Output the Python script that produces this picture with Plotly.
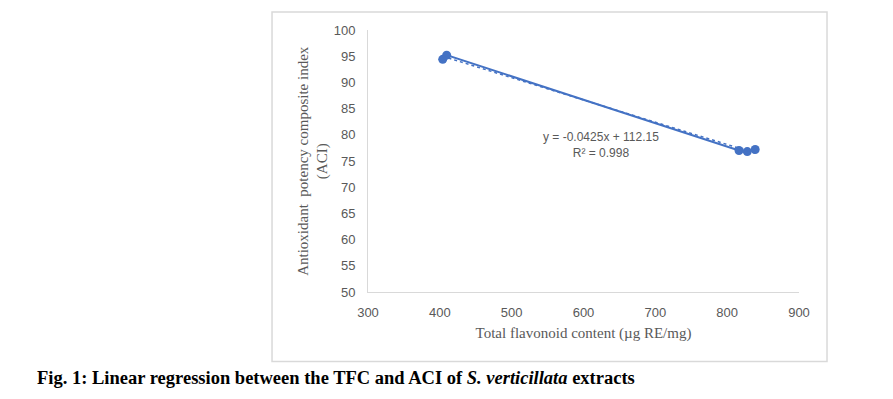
import plotly.graph_objects as go
import numpy as np

# Data
tfc = [404, 409.5, 816.5, 828, 839]          # Total flavonoid content (µg RE/mg)
aci = [94.4, 95.2, 77.0, 76.8, 77.2]          # Antioxidant potency composite index
slope = -0.0425
intercept = 112.15
r2 = 0.998
x_ticks = [300, 400, 500, 600, 700, 800, 900]
y_ticks = [50, 55, 60, 65, 70, 75, 80, 85, 90, 95, 100]

blue = "#4472C4"
gray_txt = "#595959"
axis_col = "#D9D9D9"

fig = go.Figure()

fig.add_trace(go.Scatter(
    x=tfc, y=aci, mode="lines+markers",
    line=dict(color=blue, width=2),
    marker=dict(color=blue, size=9),
    showlegend=False, hoverinfo="skip"))

tx = np.array([min(tfc), max(tfc)])
fig.add_trace(go.Scatter(
    x=tx, y=slope * tx + intercept, mode="lines",
    line=dict(color=blue, width=1.5, dash="dot"),
    showlegend=False, hoverinfo="skip"))

fig.update_layout(
    width=885, height=391,
    margin=dict(l=360, r=94, t=22, b=107),
    paper_bgcolor="white", plot_bgcolor="white",
    font=dict(family="Liberation Sans", color=gray_txt, size=13),
    xaxis=dict(range=[300, 900], tickvals=x_ticks, showgrid=False, zeroline=False,
               showline=True, linecolor=axis_col, linewidth=1, ticks="",
               ticklabelstandoff=8,
               tickfont=dict(size=13, color=gray_txt),
               title=dict(text="Total flavonoid content (µg RE/mg)",
                          font=dict(family="Liberation Serif", size=15, color=gray_txt),
                          standoff=8)),
    yaxis=dict(range=[50, 100], tickvals=y_ticks, showgrid=False, zeroline=False,
               showline=True, linecolor=axis_col, linewidth=1, ticks="",
               ticklabelstandoff=9,
               tickfont=dict(size=13, color=gray_txt)),
)

# Y-axis title (two lines)
fig.add_annotation(
    xref="paper", yref="paper", x=-0.128, y=0.5, xanchor="center", yanchor="middle",
    text="Antioxidant  potency composite index<br>(ACI)", textangle=-90,
    showarrow=False, font=dict(family="Liberation Serif", size=15, color=gray_txt))

# Regression equation
fig.add_annotation(
    x=625, y=78.1, xref="x", yref="y",
    text=f"y = {slope}x + {intercept}<br>R² = {r2}",
    showarrow=False, font=dict(family="Liberation Sans", size=12, color=gray_txt))

# Chart frame
fig.add_shape(type="rect", xref="paper", yref="paper",
              x0=-0.2227, x1=1.065, y0=-0.2657, y1=1.0687,
              line=dict(color=axis_col, width=1.5), fillcolor="rgba(0,0,0,0)")

# Caption
fig.add_annotation(
    xref="paper", yref="paper", x=-0.7726, y=-0.3275, xanchor="left", yanchor="middle",
    text="<b>Fig. 1: Linear regression between the TFC and ACI of <i>S. verticillata</i> extracts</b>",
    showarrow=False, font=dict(family="Liberation Serif", size=18.5, color="black"))

fig.write_html("out.html")
